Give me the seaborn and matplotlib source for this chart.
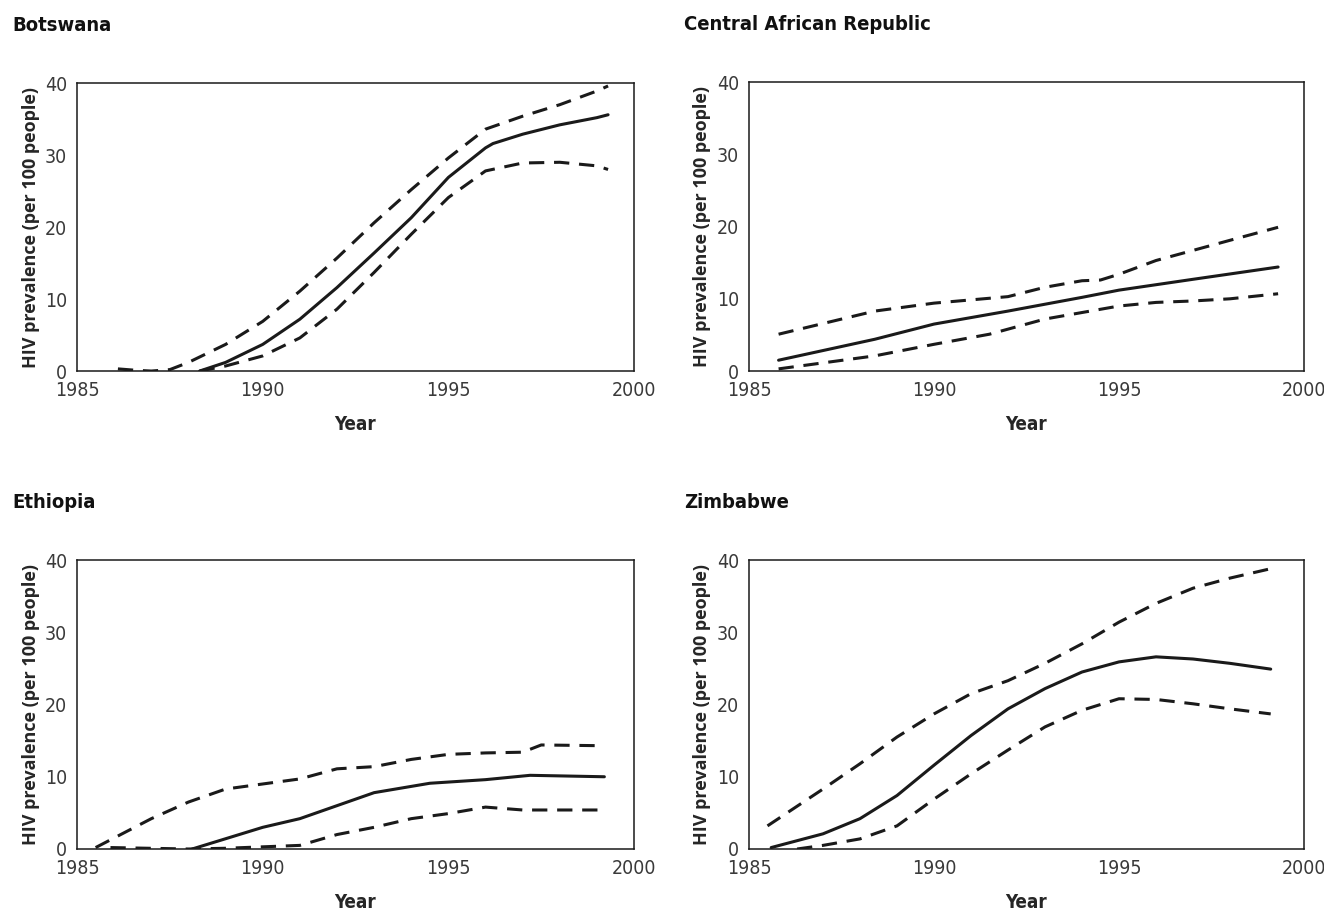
import matplotlib
matplotlib.use("Agg")
import matplotlib.pyplot as plt
import seaborn as sns
import pandas as pd

# data (year, prevalence per 100 people)
bw_mid_x = [1988.3, 1989, 1990, 1991, 1992, 1993, 1994, 1995, 1996, 1996.2, 1997, 1998, 1999, 1999.3]
bw_mid_y = [0.0, 1.2, 3.7, 7.2, 11.6, 16.4, 21.3, 26.9, 31.0, 31.6, 32.9, 34.2, 35.2, 35.6]
bw_hi_x = [1986.1, 1986.6, 1987, 1987.5, 1988, 1989, 1990, 1991, 1992, 1993, 1994, 1995, 1996, 1997, 1998, 1999, 1999.3]
bw_hi_y = [0.3, 0.1, 0.0, 0.2, 1.2, 3.7, 6.9, 11.1, 15.7, 20.6, 25.2, 29.6, 33.6, 35.4, 37.0, 38.9, 39.6]
bw_lo_x = [1988.3, 1989, 1990, 1991, 1992, 1993, 1994, 1995, 1996, 1997, 1998, 1999, 1999.3]
bw_lo_y = [0.0, 0.7, 2.1, 4.6, 8.6, 13.7, 19.0, 24.1, 27.8, 28.9, 29.0, 28.5, 28.0]

car_mid_x = [1985.8, 1988.4, 1990, 1992, 1994, 1995, 1997, 1999.3]
car_mid_y = [1.5, 4.4, 6.5, 8.3, 10.2, 11.2, 12.7, 14.4]
car_hi_x = [1985.8, 1988.4, 1990, 1992, 1993, 1994, 1994.5, 1995, 1996, 1997, 1998, 1999.3]
car_hi_y = [5.1, 8.3, 9.4, 10.3, 11.6, 12.5, 12.6, 13.4, 15.3, 16.7, 18.1, 19.9]
car_lo_x = [1985.8, 1988.4, 1990, 1991.5, 1992, 1993, 1994, 1995, 1996, 1997, 1998, 1999.3]
car_lo_y = [0.3, 2.1, 3.7, 5.1, 5.8, 7.2, 8.1, 9.0, 9.5, 9.7, 10.0, 10.7]

eth_mid_x = [1988.1, 1990, 1991, 1992, 1993, 1994.5, 1996, 1997.2, 1999.2]
eth_mid_y = [0.0, 3.0, 4.2, 6.0, 7.8, 9.1, 9.6, 10.2, 10.0]
eth_hi_x = [1985.5, 1987, 1988, 1989, 1990, 1991, 1992, 1993, 1994, 1995, 1996, 1997, 1997.5, 1999.1]
eth_hi_y = [0.2, 4.2, 6.5, 8.3, 9.0, 9.7, 11.1, 11.4, 12.4, 13.1, 13.3, 13.4, 14.4, 14.3]
eth_lo_x = [1985.9, 1988, 1989, 1990, 1991, 1992, 1993, 1994, 1995, 1996, 1997, 1999.1]
eth_lo_y = [0.2, 0.0, 0.1, 0.3, 0.5, 2.0, 3.0, 4.2, 4.9, 5.8, 5.4, 5.4]

zw_mid_x = [1985.6, 1987, 1988, 1989, 1990, 1991, 1992, 1993, 1994, 1995, 1996, 1997, 1998, 1999.1]
zw_mid_y = [0.2, 2.1, 4.2, 7.4, 11.6, 15.7, 19.4, 22.2, 24.5, 25.9, 26.6, 26.3, 25.7, 24.9]
zw_hi_x = [1985.5, 1987, 1988, 1989, 1990, 1991, 1992, 1993, 1994, 1995, 1996, 1997, 1998, 1999.1]
zw_hi_y = [3.2, 8.3, 11.8, 15.5, 18.7, 21.5, 23.3, 25.7, 28.4, 31.4, 34.0, 36.1, 37.5, 38.8]
zw_lo_x = [1986.3, 1987, 1988, 1989, 1990, 1991, 1992, 1993, 1994, 1995, 1996, 1997, 1998, 1999.1]
zw_lo_y = [0.0, 0.5, 1.4, 3.2, 6.9, 10.4, 13.7, 16.9, 19.2, 20.8, 20.7, 20.1, 19.4, 18.7]

countries = ["Botswana", "Central African Republic", "Ethiopia", "Zimbabwe"]
series = {
    "Botswana": [(bw_mid_x, bw_mid_y), (bw_hi_x, bw_hi_y), (bw_lo_x, bw_lo_y)],
    "Central African Republic": [(car_mid_x, car_mid_y), (car_hi_x, car_hi_y), (car_lo_x, car_lo_y)],
    "Ethiopia": [(eth_mid_x, eth_mid_y), (eth_hi_x, eth_hi_y), (eth_lo_x, eth_lo_y)],
    "Zimbabwe": [(zw_mid_x, zw_mid_y), (zw_hi_x, zw_hi_y), (zw_lo_x, zw_lo_y)],
}
x_ticks = [1985, 1990, 1995, 2000]
y_ticks = [0, 10, 20, 30, 40]

sns.set_style("white")
plt.rcParams["font.family"] = ["DejaVu Sans"]
plt.rcParams["font.stretch"] = "condensed"

fig = plt.figure(figsize=(13.24, 9.13), dpi=100)

# axes boxes in figure fractions
boxes = [
    [0.0582, 0.5936, 0.4207, 0.3154],
    [0.5657, 0.5936, 0.4192, 0.3165],
    [0.0582, 0.0701, 0.4207, 0.3165],
    [0.5657, 0.0701, 0.4192, 0.3165],
]
ink = "#1a1a1a"

for name, box in zip(countries, boxes):
    ax = fig.add_axes(box)
    mid, hi, lo = series[name]
    sns.lineplot(x=mid[0], y=mid[1], ax=ax, color=ink, lw=2.2)
    for sx, sy in (hi, lo):
        sns.lineplot(x=sx, y=sy, ax=ax, color=ink, lw=2.2, linestyle=(0, (5, 3.2)))

    ax.set_xlim(1985, 2000)
    ax.set_ylim(0, 40)
    ax.set_xticks(x_ticks)
    ax.set_yticks(y_ticks)
    ax.tick_params(axis="both", direction="out", length=6, width=1, color=ink,
                   labelsize=14, labelcolor="#3a3a3a", pad=1)
    for s in ax.spines.values():
        s.set_color(ink)
        s.set_linewidth(1.1)

    ax.set_xlabel("Year", fontsize=13.5, fontweight="bold", labelpad=11)
    ax.set_ylabel("HIV prevalence (per 100 people)", fontsize=13,
                  fontweight="bold", fontstretch="normal",
                  family=["Open Sans", "DejaVu Sans"], labelpad=4)

    # panel title at the top-left of each quadrant
    bb = ax.get_position()
    fig.text(bb.x0 - 0.049, bb.y1 + 0.057, name, fontsize=14.5, fontweight="bold",
             ha="left", va="baseline", color="#111111")

fig.savefig("out.png", dpi=100)
